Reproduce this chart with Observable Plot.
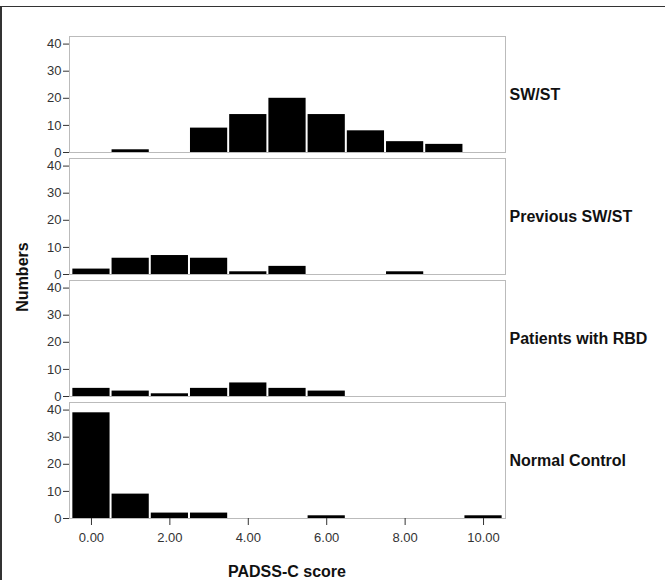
<!DOCTYPE html>
<html>
<head>
<meta charset="utf-8">
<script src="https://cdn.jsdelivr.net/npm/d3@7"></script>
<script src="https://cdn.jsdelivr.net/npm/@observablehq/plot@0.6"></script>
<style>
  html, body { margin: 0; padding: 0; background: white; }
  #wrap { position: relative; width: 665px; height: 580px; overflow: hidden; font-family: "Liberation Sans", Arial, sans-serif; }
  #border { position: absolute; left: 0; top: 6px; width: 665px; height: 580px; border-top: 1px solid #333; border-left: 2px solid #333; box-sizing: border-box; pointer-events: none; }
  .ttl { position: absolute; font-weight: bold; font-size: 16px; color: #111; white-space: nowrap; }
  #xt { left: 287px; top: 563px; transform: translateX(-50%); }
  #yt { left: 23px; top: 277px; transform: translate(-50%, -50%) rotate(-90deg); }
</style>
</head>
<body>
<div id="wrap">
  <div id="chart"></div>
  <div id="border"></div>
  <div class="ttl" id="xt">PADSS-C score</div>
  <div class="ttl" id="yt">Numbers</div>
</div>
<script>
const groups = ["SW/ST", "Previous SW/ST", "Patients with RBD", "Normal Control"];
const scores = [0, 1, 2, 3, 4, 5, 6, 7, 8, 9, 10];
const swst     = [0, 1, 0, 9, 14, 20, 14, 8, 4, 3, 0];
const previous = [2, 6, 7, 6, 1, 3, 0, 0, 1, 0, 0];
const rbd      = [3, 2, 1, 3, 5, 3, 2, 0, 0, 0, 0];
const normal   = [39, 9, 2, 2, 0, 0, 1, 0, 0, 0, 1];
const yTicks = [0, 10, 20, 30, 40];
const xTicks = [0, 2, 4, 6, 8, 10];

const series = [swst, previous, rbd, normal];
const data = groups.flatMap((g, i) =>
  scores.map((s, j) => ({group: g, score: s, count: series[i][j]}))
).filter(d => d.count > 0);

const chart = Plot.plot({
  width: 665,
  height: 580,
  marginLeft: 69,
  marginRight: 160,
  marginTop: 35,
  marginBottom: 62,
  style: {fontFamily: "'Liberation Sans', Arial, sans-serif", background: "transparent", color: "#333"},
  x: {domain: [-0.56, 10.56]},
  y: {domain: [0, 42.8]},
  fy: {domain: groups, padding: 0.052},
  marks: [
    Plot.rectY(data, {
      x1: d => d.score - 0.5,
      x2: d => d.score + 0.5,
      y: "count",
      fy: "group",
      fill: "black",
      insetLeft: 1,
      insetRight: 1
    }),
    Plot.frame({stroke: "#777", strokeDasharray: "1,1"}),
    Plot.axisY({ticks: yTicks, tickSize: 6, tickPadding: 2, fontSize: 13, label: null}),
    Plot.axisX({ticks: xTicks, tickFormat: d3.format(".2f"), tickSize: 7, tickPadding: 7, fontSize: 13, label: null}),
    Plot.axisFy({anchor: "right", tickSize: 0, tickPadding: 4, fontSize: 16, fontWeight: "bold", label: null, fill: "#111"})
  ]
});
document.getElementById("chart").appendChild(chart);
</script>
</body>
</html>
